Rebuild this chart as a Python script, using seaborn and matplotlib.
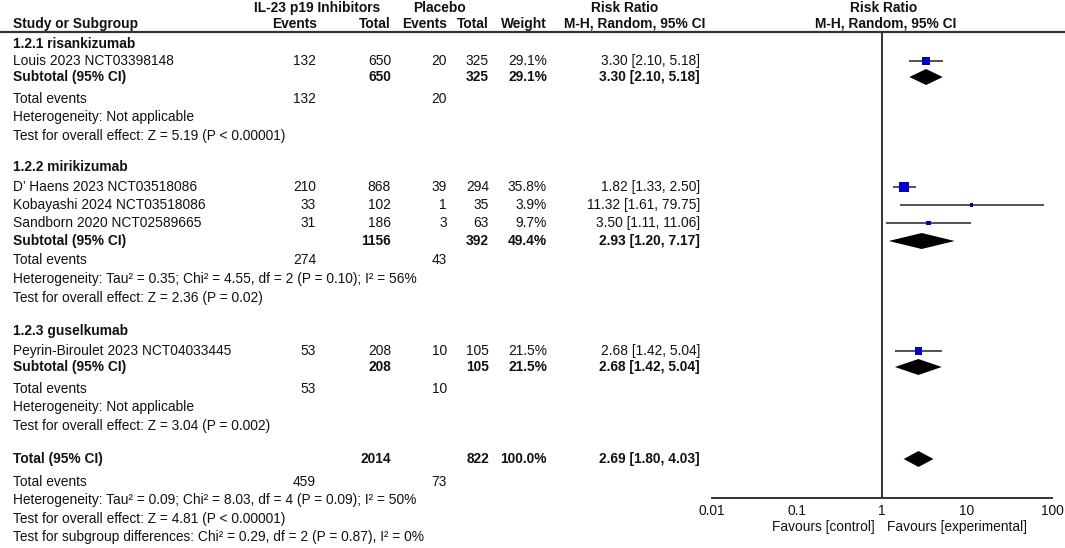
import matplotlib
matplotlib.use("Agg")
import matplotlib.pyplot as plt
from matplotlib.ticker import NullLocator
import seaborn as sns

# study level data
studies = ["Louis 2023 NCT03398148", "D’ Haens 2023 NCT03518086",
           "Kobayashi 2024 NCT03518086", "Sandborn 2020 NCT02589665",
           "Peyrin-Biroulet 2023 NCT04033445"]
exp_events = [132, 210, 33, 31, 53]
exp_total = [650, 868, 102, 186, 208]
pla_events = [20, 39, 1, 3, 10]
pla_total = [325, 294, 35, 63, 105]
weight = [29.1, 35.8, 3.9, 9.7, 21.5]
rr = [3.30, 1.82, 11.32, 3.50, 2.68]
rr_lo = [2.10, 1.33, 1.61, 1.11, 1.42]
rr_hi = [5.18, 2.50, 79.75, 11.06, 5.04]

# subgroup data
groups = ["1.2.1 risankizumab", "1.2.2 mirikizumab", "1.2.3 guselkumab"]
grp_exp_total = [650, 1156, 208]
grp_pla_total = [325, 392, 105]
grp_exp_events = [132, 274, 53]
grp_pla_events = [20, 43, 10]
grp_weight = [29.1, 49.4, 21.5]
grp_rr = [3.30, 2.93, 2.68]
grp_lo = [2.10, 1.20, 1.42]
grp_hi = [5.18, 7.17, 5.04]
grp_het = ["Heterogeneity: Not applicable",
           "Heterogeneity: Tau² = 0.35; Chi² = 4.55, df = 2 (P = 0.10); I² = 56%",
           "Heterogeneity: Not applicable"]
grp_test = ["Test for overall effect: Z = 5.19 (P < 0.00001)",
            "Test for overall effect: Z = 2.36 (P = 0.02)",
            "Test for overall effect: Z = 3.04 (P = 0.002)"]

# overall result
tot_exp_total, tot_pla_total = 2014, 822
tot_exp_events, tot_pla_events = 459, 73
tot_weight = 100.0
tot_rr, tot_lo, tot_hi = 2.69, 1.80, 4.03
tot_notes = ["Heterogeneity: Tau² = 0.09; Chi² = 8.03, df = 4 (P = 0.09); I² = 50%",
             "Test for overall effect: Z = 4.81 (P < 0.00001)",
             "Test for subgroup differences: Chi² = 0.29, df = 2 (P = 0.87), I² = 0%"]

axis_ticks = [0.01, 0.1, 1, 10, 100]
axis_labels = ["0.01", "0.1", "1", "10", "100"]

# --- layout (pixel rows, top = 0) ---
study_y = [61, 187, 205, 223, 351]
title_y = [44, 167, 331]
sub_y = [77, 241, 367]
events_y = [99, 260, 389]
het_y = [117, 279, 407]
test_y = [136, 298, 426]
total_y = 459
total_events_y = 482
notes_y = [500, 519, 537]

X_LAB, X_EV1, X_TOT1, X_EV2, X_TOT2, X_W, X_RR = 13, 316, 391, 447, 489, 547, 700
FS = 9.9
INK = "#111111"
LINE = "#333333"

sns.set_theme(style="white")
plt.rcParams["font.family"] = ["Liberation Sans", "DejaVu Sans"]

fig = plt.figure(figsize=(10.65, 5.48), dpi=100)
tx = fig.add_axes([0, 0, 1, 1])
tx.set_xlim(0, 1065)
tx.set_ylim(548, 0)
tx.axis("off")


def put(x, y, s, ha="left", bold=False):
    tx.text(x, y, s, ha=ha, va="center", fontsize=FS, color=INK,
            fontweight="bold" if bold else "normal")


# header
put(317, 8, "IL-23 p19 Inhibitors", ha="center", bold=True)
put(440, 8, "Placebo", ha="center", bold=True)
put(625, 8, "Risk Ratio", ha="center", bold=True)
put(884, 8, "Risk Ratio", ha="center", bold=True)
put(X_LAB, 24, "Study or Subgroup", bold=True)
put(X_EV1 + 1, 24, "Events", ha="right", bold=True)
put(X_TOT1, 24, "Total", ha="right", bold=True)
put(X_EV2, 24, "Events", ha="right", bold=True)
put(X_TOT2, 24, "Total", ha="right", bold=True)
put(X_W, 24, "Weight", ha="right", bold=True)
put(635, 24, "M-H, Random, 95% CI", ha="center", bold=True)
put(886, 24, "M-H, Random, 95% CI", ha="center", bold=True)
tx.plot([0, 1065], [32, 32], color=LINE, lw=1.6)

# study rows
for i, name in enumerate(studies):
    y = study_y[i]
    put(X_LAB, y, name)
    put(X_EV1, y, str(exp_events[i]), ha="right")
    put(X_TOT1, y, str(exp_total[i]), ha="right")
    put(X_EV2, y, str(pla_events[i]), ha="right")
    put(X_TOT2, y, str(pla_total[i]), ha="right")
    put(X_W, y, f"{weight[i]:.1f}%", ha="right")
    put(X_RR, y, f"{rr[i]:.2f} [{rr_lo[i]:.2f}, {rr_hi[i]:.2f}]", ha="right")

# subgroup blocks
for g, name in enumerate(groups):
    put(X_LAB, title_y[g], name, bold=True)
    put(X_LAB, sub_y[g], "Subtotal (95% CI)", bold=True)
    put(X_TOT1, sub_y[g], str(grp_exp_total[g]), ha="right", bold=True)
    put(X_TOT2, sub_y[g], str(grp_pla_total[g]), ha="right", bold=True)
    put(X_W, sub_y[g], f"{grp_weight[g]:.1f}%", ha="right", bold=True)
    put(X_RR, sub_y[g], f"{grp_rr[g]:.2f} [{grp_lo[g]:.2f}, {grp_hi[g]:.2f}]",
        ha="right", bold=True)
    put(X_LAB, events_y[g], "Total events")
    put(X_EV1, events_y[g], str(grp_exp_events[g]), ha="right")
    put(X_EV2, events_y[g], str(grp_pla_events[g]), ha="right")
    put(X_LAB, het_y[g], grp_het[g])
    put(X_LAB, test_y[g], grp_test[g])

# overall
put(X_LAB, total_y, "Total (95% CI)", bold=True)
put(X_TOT1, total_y, str(tot_exp_total), ha="right", bold=True)
put(X_TOT2, total_y, str(tot_pla_total), ha="right", bold=True)
put(X_W, total_y, f"{tot_weight:.1f}%", ha="right", bold=True)
put(X_RR, total_y, f"{tot_rr:.2f} [{tot_lo:.2f}, {tot_hi:.2f}]", ha="right", bold=True)
put(X_LAB, total_events_y, "Total events")
put(X_EV1, total_events_y, str(tot_exp_events), ha="right")
put(X_EV2, total_events_y, str(tot_pla_events), ha="right")
for y, s in zip(notes_y, tot_notes):
    put(X_LAB, y, s)

put(875, 527, "Favours [control]", ha="right")
put(887, 527, "Favours [experimental]")

# --- forest panel ---
fx = fig.add_axes([712 / 1065, (548 - 498) / 548, 340 / 1065, (498 - 32) / 548])
fx.patch.set_alpha(0)
fx.set_xscale("log")
fx.set_xlim(0.01, 100)
fx.set_ylim(498, 32)
fx.axvline(1, color=LINE, lw=1.4, zorder=1)

fx.hlines(study_y, rr_lo, rr_hi, color=LINE, lw=1.2, zorder=2)
# square area proportional to study weight
sns.scatterplot(x=rr, y=study_y, size=weight, sizes=(0, 44), size_norm=(0, 35.8),
                marker="s", color="#0000c8", linewidth=0, legend=False, ax=fx, zorder=3)

half_h = 8
for est, lo, hi, y in list(zip(grp_rr, grp_lo, grp_hi, sub_y)) + [(tot_rr, tot_lo, tot_hi, total_y)]:
    fx.fill([lo, est, hi, est], [y, y - half_h, y, y + half_h], color="black", lw=0, zorder=3)

fx.set_xticks(axis_ticks)
fx.set_xticklabels(axis_labels)
fx.xaxis.set_minor_locator(NullLocator())
fx.set_yticks([])
fx.set_xlabel("")
fx.set_ylabel("")
for side in ["top", "left", "right"]:
    fx.spines[side].set_visible(False)
fx.spines["bottom"].set_color(LINE)
fx.spines["bottom"].set_linewidth(1.4)
fx.tick_params(axis="x", direction="inout", length=6, width=1.4, color=LINE,
               labelcolor=INK, labelsize=FS, pad=1.5)

fig.savefig("out.png", dpi=100)
